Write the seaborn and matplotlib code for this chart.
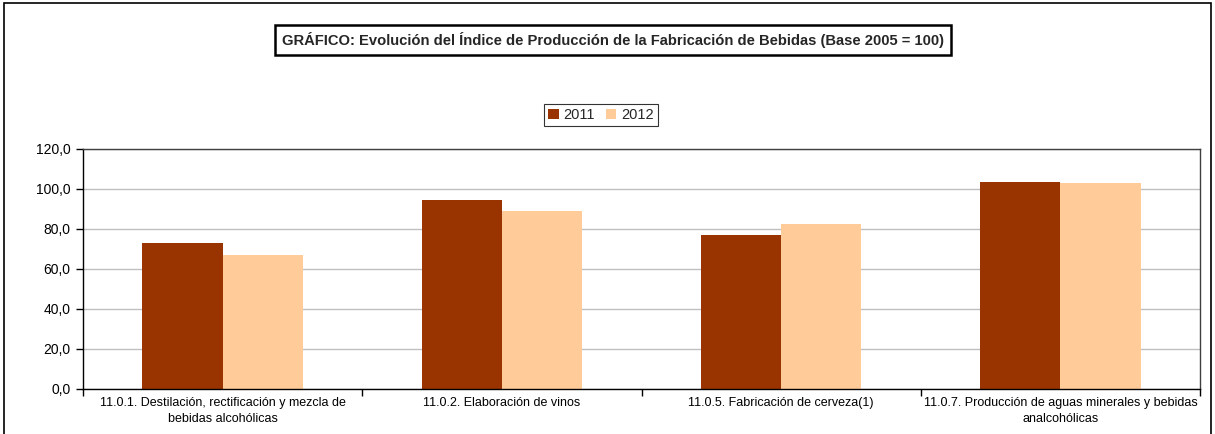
import pandas as pd
import seaborn as sns
import matplotlib.pyplot as plt
from matplotlib import font_manager
from matplotlib.ticker import FuncFormatter, MultipleLocator
from matplotlib.patches import Rectangle

categories = [
    "11.0.1. Destilación, rectificación y mezcla de\nbebidas alcohólicas",
    "11.0.2. Elaboración de vinos",
    "11.0.5. Fabricación de cerveza(1)",
    "11.0.7. Producción de aguas minerales y bebidas\nanalcohólicas",
]
years = ["2011", "2012"]
values_2011 = [73.2, 94.7, 77.2, 103.7]
values_2012 = [67.2, 89.2, 82.7, 103.2]
colors = ["#993300", "#FFCC99"]

sns.set_theme(style="white")
plt.rcParams["font.family"] = ["Liberation Sans", "DejaVu Sans"]

# narrow font for the category labels if there is one
installed = {f.name for f in font_manager.fontManager.ttflist}
if "Liberation Sans Narrow" in installed:
    label_family = ["Liberation Sans Narrow", "Liberation Sans"]
    label_size = 9.5
else:
    label_family = ["Liberation Sans", "DejaVu Sans"]
    label_size = 9


def build_frame():
    '''
    Long-form table of the index for each category and year
    '''
    rows = []
    for cat, a, b in zip(categories, values_2011, values_2012):
        rows.append({"categoria": cat, "year": years[0], "indice": a})
        rows.append({"categoria": cat, "year": years[1], "indice": b})
    return pd.DataFrame(rows)


def plot(df):
    fig = plt.figure(figsize=(12.15, 4.34), dpi=100)
    ax = fig.add_axes([0.0683, 0.1037, 0.9194, 0.553])

    sns.barplot(data=df, x="categoria", y="indice", hue="year",
                palette=colors, width=0.575, gap=0, saturation=1,
                linewidth=0, ax=ax, legend=True)

    ax.set_ylim(0, 120)
    ax.set_xlim(-0.5, len(categories) - 0.5)
    ax.yaxis.set_major_locator(MultipleLocator(20))
    ax.yaxis.set_major_formatter(
        FuncFormatter(lambda v, p: f"{v:.1f}".replace(".", ",")))
    ax.grid(axis="y", color="#BFBFBF", linewidth=1)
    ax.set_axisbelow(True)
    ax.set_xlabel("")
    ax.set_ylabel("")

    # category labels between boundary ticks
    ax.set_xticks(range(len(categories)))
    ax.set_xticklabels(categories, fontsize=label_size, family=label_family,
                       color="black", linespacing=1.45)
    ax.set_xticks([i - 0.5 for i in range(len(categories) + 1)], minor=True)
    ax.tick_params(axis="x", which="major", length=0, pad=6)
    ax.tick_params(axis="x", which="minor", length=5, width=1,
                   color="black", direction="out", bottom=True)
    ax.tick_params(axis="y", length=5, width=1, color="black",
                   direction="out", left=True, labelsize=10,
                   labelcolor="black", pad=4)

    for side in ["left", "bottom"]:
        ax.spines[side].set_color("black")
        ax.spines[side].set_linewidth(1)
    for side in ["top", "right"]:
        ax.spines[side].set_color("#404040")
        ax.spines[side].set_linewidth(1)

    handles, labels = ax.get_legend_handles_labels()
    ax.legend_.remove()
    leg = fig.legend(handles, labels, loc="center", ncol=2,
                     bbox_to_anchor=(0.4946, 0.735), fontsize=10.5,
                     frameon=True, fancybox=False, handlelength=0.7,
                     handleheight=0.7, handletextpad=0.3,
                     columnspacing=0.8, borderpad=0.3)
    leg.get_frame().set_edgecolor("black")
    leg.get_frame().set_linewidth(0.8)

    fig.text(0.5045, 0.908,
             "GRÁFICO: Evolución del Índice de Producción de la "
             "Fabricación de Bebidas (Base 2005 = 100)",
             ha="center", va="center", fontsize=10.6, fontweight="bold",
             bbox=dict(boxstyle="square,pad=0.5", facecolor="white",
                       edgecolor="black", linewidth=1.8))

    fig.patches.append(Rectangle((0.003, -0.01), 0.994, 1.003,
                                 transform=fig.transFigure, fill=False,
                                 edgecolor="black", linewidth=1.2))

    fig.savefig("out.png", dpi=100)


def main():
    df = build_frame()
    plot(df)


if __name__ == "__main__":
    main()
